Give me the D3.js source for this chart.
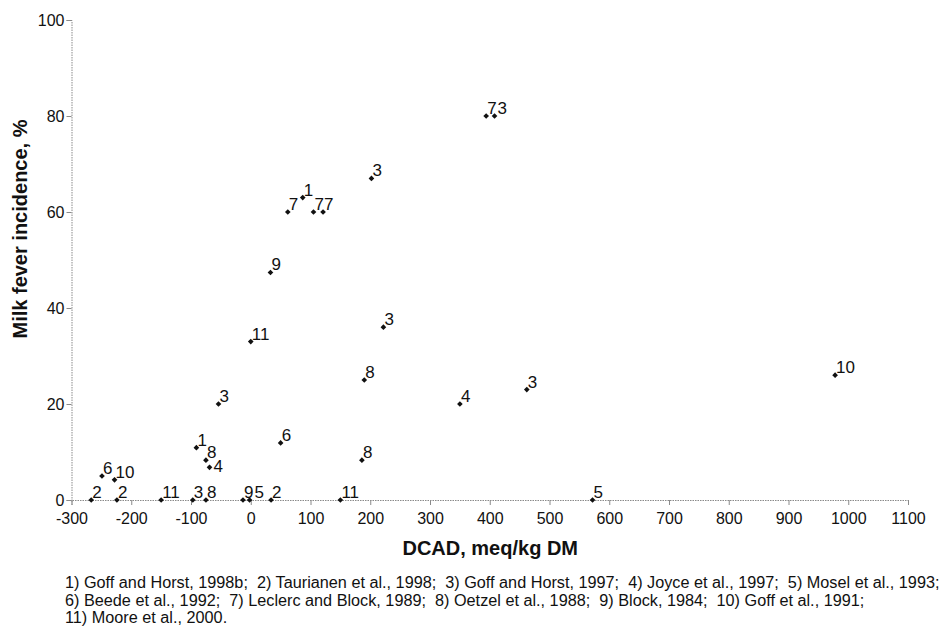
<!DOCTYPE html>
<html>
<head>
<meta charset="utf-8">
<script src="https://cdn.jsdelivr.net/npm/d3@7/dist/d3.min.js"></script>
<style>
  html, body { margin: 0; padding: 0; background: #fff; }
  svg { display: block; font-family: "Liberation Sans", Arial, Helvetica, sans-serif; }
  .foot { white-space: pre; }
</style>
</head>
<body>
<svg id="chart" width="944" height="628"></svg>
<script>
// ---------------- data ----------------
const studyId   = ["2","6","10","2","11","1","3","8","4","8","9","5","2","6","11","8",
                   "3","1","7","7","7","9","11","3","8","3","7","3","4","3","10","5"];
const dcad      = [-267,-249,-228,-224,-150,-91,-97,-75,-69,-75,-13,-2,34,50,150,186,
                   202,87,62,105,121,33,0,222,190,-54,394,408,350,462,978,572];
const incidence = [0,5,4.2,0,0,10.9,0,8.3,6.8,0,0,0,0,11.9,0,8.3,
                   67,63,60,60,60,47.4,33,36,25,20,80,80,20,23,26,0];
const xTicks = [-300,-200,-100,0,100,200,300,400,500,600,700,800,900,1000,1100];
const yTicks = [0,20,40,60,80,100];
const xTitle = "DCAD, meq/kg DM";
const yTitle = "Milk fever incidence, %";
const footnotes = [
  "1) Goff and Horst, 1998b;  2) Taurianen et al., 1998;  3) Goff and Horst, 1997;  4) Joyce et al., 1997;  5) Mosel et al., 1993;",
  "6) Beede et al., 1992;  7) Leclerc and Block, 1989;  8) Oetzel et al., 1988;  9) Block, 1984;  10) Goff et al., 1991;",
  "11) Moore et al., 2000."
];

// ---------------- chart ----------------
const svg = d3.select("#chart");
const textColor = "#111";
const axisColor = "#8a8a8a";

const x = d3.scaleLinear().domain([-300, 1100]).range([71.5, 908]);
const y = d3.scaleLinear().domain([0, 100]).range([500, 20]);

// x axis
const gx = svg.append("g").attr("transform", `translate(0,${y(0)})`)
  .call(d3.axisBottom(x).tickValues(xTicks).tickSize(5).tickPadding(8).tickFormat(d => String(d)));
// y axis
const gy = svg.append("g").attr("transform", `translate(${x(-300)},0)`)
  .call(d3.axisLeft(y).tickValues(yTicks).tickSize(5).tickPadding(2).tickFormat(d => String(d)));

[gx, gy].forEach(g => {
  g.select(".domain").attr("stroke", axisColor).attr("stroke-width", 1)
    .attr("stroke-dasharray", "1.5,1");
  g.selectAll(".tick line").attr("stroke", axisColor).attr("stroke-width", 1);
  g.selectAll(".tick text").attr("fill", textColor)
    .style("font-family", "'Liberation Sans', Arial, sans-serif").style("font-size", "16px");
});

// axis titles
svg.append("text")
  .attr("x", (x(-300) + x(1100)) / 2 + 0.5).attr("y", 555)
  .attr("text-anchor", "middle").attr("fill", textColor)
  .style("font-weight", "bold").style("font-size", "20px")
  .text(xTitle);

svg.append("text")
  .attr("transform", "translate(27,229) rotate(-90)")
  .attr("text-anchor", "middle").attr("fill", textColor)
  .style("font-weight", "bold").style("font-size", "20px")
  .text(yTitle);

// points
const pts = studyId.map((id, i) => ({ id, dx: dcad[i], inc: incidence[i] }));
const marker = d3.symbol().type(d3.symbolSquare).size(16);
svg.append("g").selectAll("path").data(pts).join("path")
  .attr("d", marker)
  .attr("transform", d => `translate(${x(d.dx)},${y(d.inc)}) rotate(45)`)
  .attr("fill", "#111");

// labels with simple collision avoidance
const labFont = 17;
const capH = 0.72 * labFont;
const placed = [];
const labG = svg.append("g").attr("fill", textColor).style("font-size", labFont + "px");
pts.forEach(d => {
  const px = x(d.dx), py = y(d.inc);
  const t = labG.append("text").text(d.id);
  const w = t.node().getComputedTextLength();
  const cands = [
    { x0: px + 1, base: py - 2 },
    { x0: px + 3, base: py - 2 },
    { x0: px + 5, base: py - 2 },
    { x0: px - 1 - w, base: py - 2 },
    { x0: px + 4, base: py + 5 }
  ];
  let chosen = cands[0];
  for (const c of cands) {
    const box = { l: c.x0, r: c.x0 + w, t: c.base - capH, b: c.base };
    const hit = placed.some(p => box.l < p.r && box.r > p.l && box.t < p.b && box.b > p.t);
    if (!hit) { chosen = c; break; }
  }
  placed.push({ l: chosen.x0, r: chosen.x0 + w, t: chosen.base - capH, b: chosen.base });
  t.attr("x", chosen.x0).attr("y", chosen.base);
});

// footnotes
const footG = svg.append("g").attr("fill", textColor);
const footBase = [588, 606, 623];
const probe = footG.append("text").attr("class", "foot").style("font-size", "13px").text(footnotes[0]);
const targetW = 875;
const fs = 13 * targetW / probe.node().getComputedTextLength();
probe.remove();
footnotes.forEach((s, i) => {
  footG.append("text").attr("class", "foot")
    .attr("x", 65).attr("y", footBase[i])
    .style("font-size", fs.toFixed(2) + "px")
    .text(s);
});
</script>
</body>
</html>
